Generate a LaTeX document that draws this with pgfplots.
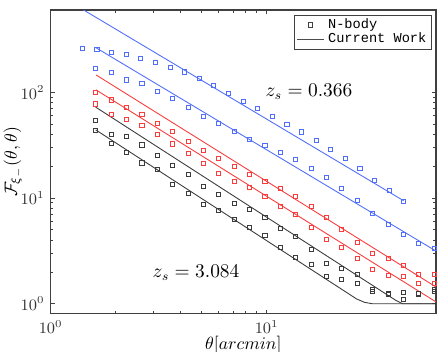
\documentclass[border=0pt]{standalone}
\usepackage{fontspec}
\newfontfamily\legfont{Liberation Mono}
\usepackage{pgfplots}
\usepackage{pgfplotstable}
\pgfplotsset{compat=1.18}
\definecolor{cblue}{RGB}{80,110,250}
\definecolor{cred}{RGB}{250,60,60}
\definecolor{cgray}{RGB}{60,60,60}

% N-body points, zs = 0.366 (two blue sets)
\pgfplotstableread{
x y
1.401 261
1.636 255
1.912 237
2.235 229
2.612 210
3.051 193
3.565 171
4.168 156
4.869 135
5.690 117
6.647 97.2
7.769 82.4
9.078 70.2
10.61 58.9
12.40 50.2
14.49 42.2
16.92 34.9
19.78 29.0
23.11 23.8
27.01 18.9
31.56 14.6
36.88 11.7
43.09 9.35
}\blueA
\pgfplotstableread{
x y
1.616 169
1.904 153
2.242 131
2.642 122
3.112 102
3.667 87.5
4.321 71.4
5.090 58.8
5.998 51.0
7.067 43.0
8.326 36.1
9.809 31.6
11.56 27.2
13.61 23.1
16.04 19.1
18.90 15.6
22.27 12.4
26.24 9.55
30.91 7.21
36.42 5.66
42.91 4.54
50.55 3.69
59.56 3.35
}\blueB
% red sets
\pgfplotstableread{
x y
1.616 99.3
1.904 84.8
2.242 71.5
2.642 62.2
3.112 51.0
3.667 42.7
4.321 34.6
5.090 28.5
5.998 23.8
7.067 20.1
8.326 16.8
9.809 14.5
11.56 12.4
13.61 10.3
16.04 8.31
18.90 6.54
22.27 5.00
26.24 3.83
30.91 3.01
36.42 2.66
42.91 2.29
50.55 1.89
59.56 1.89
}\redA
\pgfplotstableread{
x y
1.616 77.7
1.904 61.8
2.242 55.7
2.642 48.9
3.112 40.0
3.667 32.5
4.321 26.6
5.090 21.1
5.998 17.2
7.067 14.5
8.326 12.5
9.809 10.3
11.56 8.31
13.61 6.98
16.04 5.26
18.90 4.03
22.27 3.38
26.24 2.70
30.91 2.13
36.42 1.85
42.91 1.80
50.55 1.57
59.56 1.57
}\redB
% black sets, zs = 3.084
\pgfplotstableread{
x y
1.616 54.0
1.904 40.2
2.242 38.1
2.642 31.8
3.112 25.4
3.667 20.3
4.321 16.8
5.090 12.8
5.998 10.8
7.067 8.95
8.326 7.85
9.809 6.60
11.56 5.15
13.61 4.30
16.04 3.24
18.90 2.42
22.27 2.18
26.24 1.91
30.91 1.38
36.42 1.26
42.91 1.29
50.55 1.26
59.56 1.36
}\blackA
\pgfplotstableread{
x y
1.616 43.9
1.904 33.0
2.242 27.2
2.642 21.5
3.112 18.5
3.667 13.5
4.321 11.1
5.090 8.68
5.998 7.57
7.067 6.32
8.326 5.26
9.809 4.39
11.56 3.40
13.61 2.76
16.04 2.34
18.90 1.81
22.27 1.69
26.24 1.57
30.91 1.31
36.42 1.22
42.91 1.09
50.55 1.24
59.56 1.31
}\blackB

\begin{document}
\begin{tikzpicture}
\begin{loglogaxis}[
  scale only axis,
  width=217.4pt, height=171.5pt,
  xmin=1, xmax=60.8, ymin=0.8, ymax=600,
  xtick={1,10}, ytick={1,10,100},
  xtick pos=both, ytick pos=both, tick align=inside,
  major tick length=2.2pt, minor tick length=1.5pt,
  axis line style={black!75, line width=0.6pt},
  every tick/.style={black!75, line width=0.4pt},
  tick label style={font=\fontsize{9}{10}\selectfont, text=black!80},
  label style={font=\fontsize{10}{11}\selectfont},
  xlabel={$\theta[arcmin]$},
  ylabel={$\mathcal{F}_{\xi_{-}}(\theta,\theta)$},
  xlabel style={yshift=5.5pt},
  ylabel style={yshift=-8pt},
  legend style={at={(0.99,0.985)}, anchor=north east, draw=black!75,
    line width=0.5pt, font=\legfont\fontsize{7.7}{8}\selectfont,
    inner xsep=1pt, inner ysep=0pt, row sep=-3pt, cells={anchor=west}},
  legend cell align=left,
  mark size=1.15pt,
]
  \addlegendimage{legend image code/.code={
    \draw[black!75, line width=0.4pt, mark=square, mark size=1.15pt]
      plot coordinates {(0.27cm,0cm)};
    \path (0cm,0cm) (0.54cm,0cm);}}
  \addlegendentry{N-body}
  \addlegendimage{legend image code/.code={
    \draw[black!70, line width=0.5pt] (0cm,0cm) -- (0.54cm,0cm);}}
  \addlegendentry{Current Work}

  % model lines
  \addplot[cblue, line width=0.5pt, forget plot] coordinates {(1.401,610) (43.09,9.41)};
  \addplot[cblue, line width=0.5pt, forget plot] coordinates {(1.616,264.6) (60.8,3.15)};
  \addplot[cred, line width=0.5pt, forget plot] coordinates {(1.621,146) (60.8,1.44)};
  \addplot[cred, line width=0.5pt, forget plot] coordinates {(1.621,105.4) (60.8,1.04)};
  \addplot[cgray, line width=0.5pt, forget plot] coordinates {(1.616,72.3) (39.5,1.08) (42.5,1.0) (60.8,1.0)};
  \addplot[cgray, line width=0.5pt, forget plot] coordinates {(1.616,44.1) (26.1,1.108) (28.4,1.03) (30.8,1.0) (60.8,1.0)};

  % N-body points
  \addplot[only marks, mark=square, cblue, mark options={line width=0.4pt}, forget plot] table {\blueA};
  \addplot[only marks, mark=square, cblue, mark options={line width=0.4pt}, forget plot] table {\blueB};
  \addplot[only marks, mark=square, cred, mark options={line width=0.4pt}, forget plot] table {\redA};
  \addplot[only marks, mark=square, cred, mark options={line width=0.4pt}, forget plot] table {\redB};
  \addplot[only marks, mark=square, cgray, mark options={line width=0.4pt}, forget plot] table {\blackA};
  \addplot[only marks, mark=square, cgray, mark options={line width=0.4pt}, forget plot] table {\blackB};

  \node[font=\fontsize{10.5}{12}\selectfont] at (axis cs:15.7,101.5) {$z_s = 0.366$};
  \node[font=\fontsize{10.5}{12}\selectfont] at (axis cs:4.71,1.976) {$z_s = 3.084$};

  \coordinate (bbl) at (rel axis cs:-0.1316,-0.125);
  \coordinate (btr) at (rel axis cs:1.0182,1.0329);
\end{loglogaxis}
\pgfresetboundingbox
\path (bbl) rectangle (btr);
\end{tikzpicture}
\end{document}
